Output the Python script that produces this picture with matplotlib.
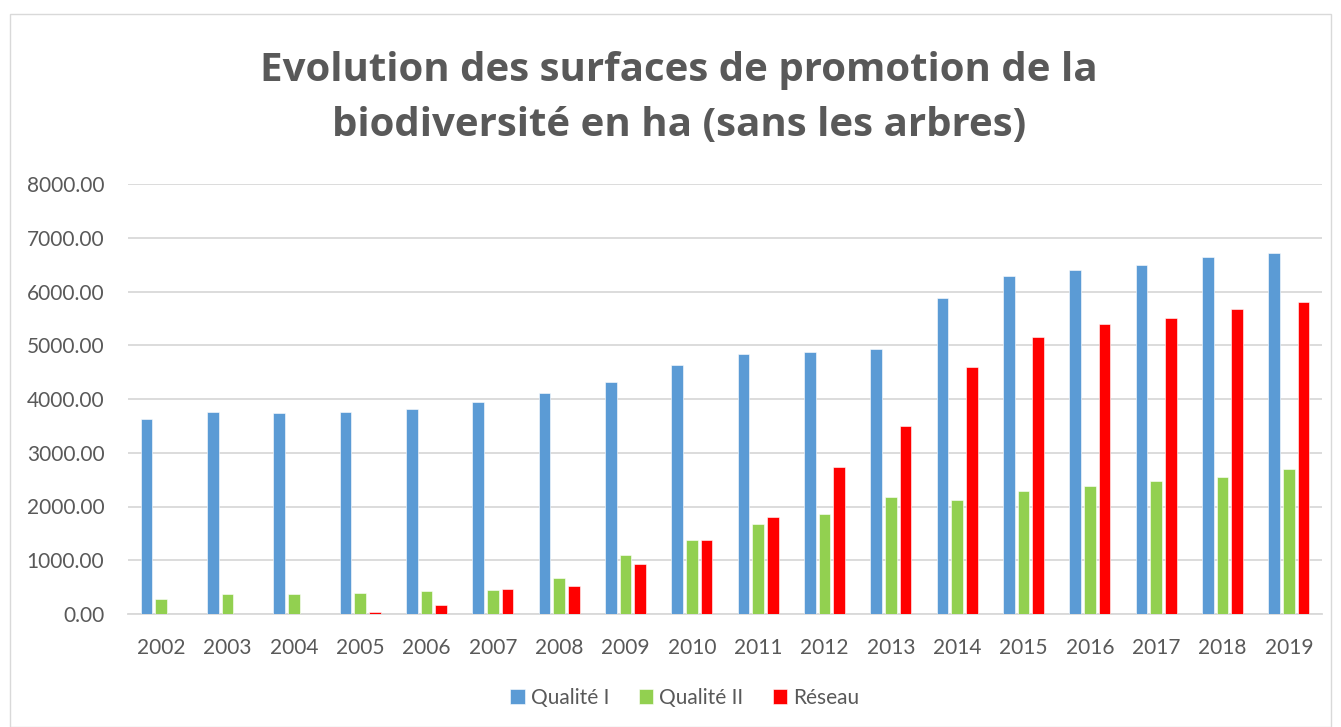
import matplotlib
matplotlib.use("Agg")
import matplotlib.pyplot as plt
import numpy as np
from matplotlib.patches import Rectangle

years = [str(y) for y in range(2002, 2020)]
qualite_1 = [3628, 3758, 3740, 3758, 3814, 3944, 4112, 4316, 4633, 4837, 4874, 4930,
             5879, 6288, 6400, 6493, 6642, 6716]
qualite_2 = [279, 372, 372, 390, 428, 446, 670, 1098, 1377, 1674, 1860, 2180,
             2120, 2280, 2390, 2474, 2549, 2698]
reseau = [0, 0, 0, 40, 167, 465, 521, 930, 1370, 1810, 2740, 3490,
          4590, 5160, 5395, 5507, 5674, 5805]
series_names = ["Qualité I", "Qualité II", "Réseau"]
colors = ["#5B9BD5", "#92D050", "#FF0000"]
yticks = [0, 1000, 2000, 3000, 4000, 5000, 6000, 7000, 8000]

plt.rcParams['font.family'] = ['Lato', 'DejaVu Sans']
txt = "#595959"

fig = plt.figure(figsize=(13.41, 7.27), dpi=100)
fig.patches.append(Rectangle((10/1341, 0), 1 - 20/1341, 1 - 14/727, transform=fig.transFigure,
                             fill=False, edgecolor="#D9D9D9", linewidth=1))
ax = fig.add_axes([128/1341, 1 - 614/727, (1322 - 128)/1341, (614 - 184)/727])

x = np.arange(len(years))
w = 0.175
step = 0.22
for i, (vals, name, c) in enumerate(zip([qualite_1, qualite_2, reseau], series_names, colors)):
    ax.bar(x + (i - 1) * step, vals, width=w, color=c, label=name,
           edgecolor="white", linewidth=0.4, zorder=3)

ax.set_xlim(-0.5, len(years) - 0.5)
ax.set_ylim(0, 8000)
ax.set_yticks(yticks)
ax.set_yticklabels([f"{v:.2f}" for v in yticks])
ax.set_xticks(x)
ax.set_xticklabels(years)
ax.grid(axis="y", color="#D9D9D9", linewidth=1.3, zorder=0)
for s in ["top", "right", "left"]:
    ax.spines[s].set_visible(False)
ax.spines["bottom"].set_color("#D9D9D9")
ax.spines["bottom"].set_linewidth(1.3)
ax.tick_params(axis="both", length=0, labelsize=15, colors=txt)
ax.tick_params(axis="x", pad=17)
ax.tick_params(axis="y", pad=17)

fig.text(679/1341, 1 - 98/727, "Evolution des surfaces de promotion de la\nbiodiversité en ha (sans les arbres)",
         ha="center", va="center", fontsize=29, fontweight="bold", color=txt, linespacing=1.55,
         family=['Open Sans', 'DejaVu Sans'])

leg = fig.legend(loc="center", bbox_to_anchor=(685/1341, 1 - 698/727), ncol=3, frameon=False,
                 fontsize=15, handlelength=0.7, handleheight=0.7, handletextpad=0.3,
                 columnspacing=1.4)
for t in leg.get_texts():
    t.set_color(txt)

fig.savefig("out.png", dpi=100)
